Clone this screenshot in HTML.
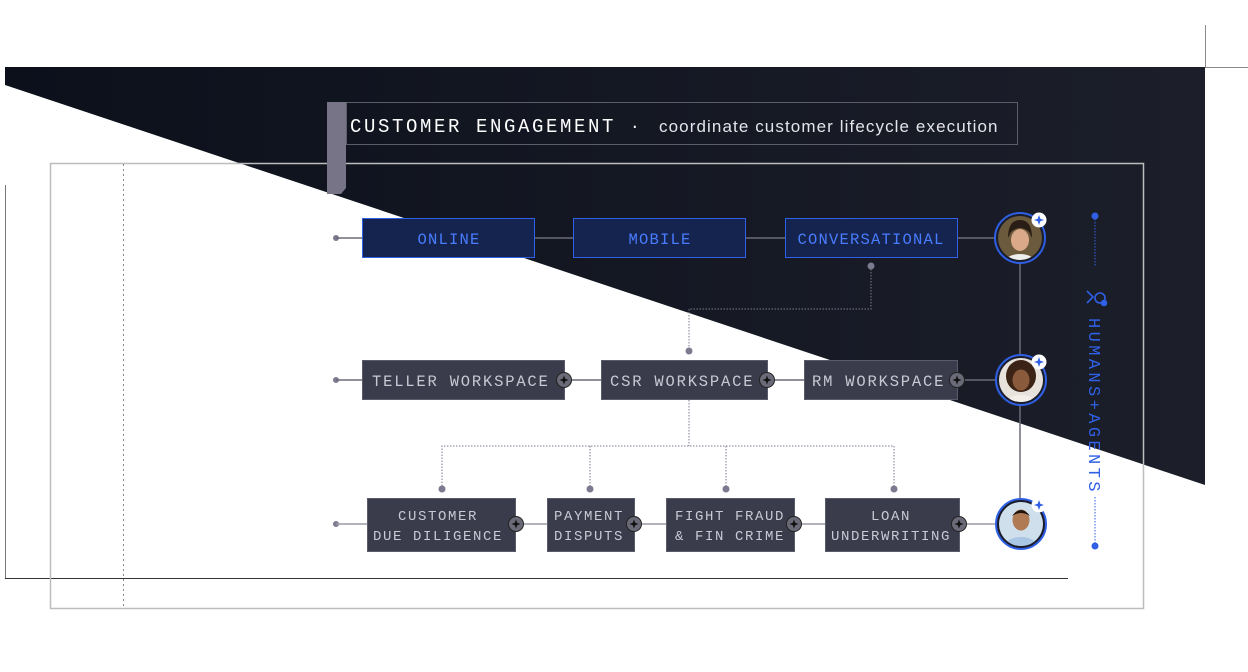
<!DOCTYPE html>
<html><head><meta charset="utf-8"><style>
html,body{margin:0;padding:0;background:#fff;width:1248px;height:672px;overflow:hidden}
svg{display:block}
.m{font-family:"Liberation Mono","DejaVu Sans Mono",monospace;}
</style></head><body>
<svg width="1248" height="672" viewBox="0 0 1248 672" xmlns="http://www.w3.org/2000/svg">
<defs>
<linearGradient id="dk" x1="0" y1="0" x2="1" y2="0">
<stop offset="0" stop-color="#0c101b"/><stop offset="1" stop-color="#1c1f2a"/>
</linearGradient>
<clipPath id="c1"><circle cx="1020" cy="238" r="22"/></clipPath>
<clipPath id="c2"><circle cx="1021" cy="380" r="22"/></clipPath>
<clipPath id="c3"><circle cx="1021" cy="524" r="22"/></clipPath>
</defs>
<polygon points="5,67 1205,67 1205,485 5,85" fill="url(#dk)"/>
<line x1="1205.5" y1="25" x2="1205.5" y2="67" stroke="#8a8a8a"/>
<line x1="1205" y1="67.5" x2="1248" y2="67.5" stroke="#8a8a8a"/>
<line x1="5.5" y1="185" x2="5.5" y2="578" stroke="#777"/>
<line x1="5" y1="578.5" x2="1068" y2="578.5" stroke="#333"/>
<rect x="50.5" y="163.5" width="1093" height="445" fill="none" stroke="#bdbdbd" stroke-width="1.5"/>
<line x1="123.5" y1="164" x2="123.5" y2="606" stroke="#888" stroke-dasharray="2,3"/>
<polygon points="327,102 346,102 346,188 341,194 327,194" fill="#767486"/>
<rect x="346.5" y="102.5" width="671" height="42" fill="none" stroke="#5c5d6a"/>
<text x="350" y="132" class="m" fill="#fff" font-size="19" letter-spacing="2.6">CUSTOMER ENGAGEMENT</text>
<text x="630" y="131" class="m" fill="#fff" font-size="16">·</text>
<text x="659" y="132" font-family="Liberation Sans,sans-serif" fill="#e4e4ea" font-size="17" letter-spacing="1.1">coordinate customer lifecycle execution</text>
<circle cx="336" cy="238" r="3" fill="#7b7a8e"/>
<line x1="336" y1="238" x2="1000" y2="238" stroke="#6b6b7a" stroke-width="1.5"/>
<line x1="1020" y1="260" x2="1020" y2="500" stroke="#6b6b7a" stroke-width="1.5"/>
<circle cx="871" cy="266" r="3.5" fill="#7b7a8e"/>
<polyline points="871,266 871,309 689,309 689,351" fill="none" stroke="#7b7a8e" stroke-dasharray="1.5,1.5"/>
<circle cx="689" cy="351" r="3.5" fill="#7b7a8e"/>
<g class="m" font-size="15.5" fill="#4a7cff" text-anchor="middle" letter-spacing="1.2">
<rect x="362.5" y="218.5" width="172" height="39" fill="#14244f" stroke="#2f60e6"/>
<text x="449" y="244">ONLINE</text>
<rect x="573.5" y="218.5" width="172" height="39" fill="#14244f" stroke="#2f60e6"/>
<text x="660" y="244">MOBILE</text>
<rect x="785.5" y="218.5" width="172" height="39" fill="#14244f" stroke="#2f60e6"/>
<text x="871" y="244">CONVERSATIONAL</text>
</g>
<circle cx="336" cy="380" r="3" fill="#7b7a8e"/>
<line x1="336" y1="380" x2="1000" y2="380" stroke="#6b6b7a" stroke-width="1.5"/>
<polyline points="689,400 689,446" fill="none" stroke="#7b7a8e" stroke-dasharray="1.5,1.5"/>
<polyline points="442,489 442,446 894,446 894,489" fill="none" stroke="#7b7a8e" stroke-dasharray="1.5,1.5"/>
<line x1="590" y1="446" x2="590" y2="489" stroke="#7b7a8e" stroke-dasharray="1.5,1.5"/>
<line x1="726" y1="446" x2="726" y2="489" stroke="#7b7a8e" stroke-dasharray="1.5,1.5"/>
<g fill="#7b7a8e"><circle cx="442" cy="489" r="3.5"/><circle cx="590" cy="489" r="3.5"/><circle cx="726" cy="489" r="3.5"/><circle cx="894" cy="489" r="3.5"/></g>
<g class="m" font-size="15.5" fill="#c9c9d4" letter-spacing="1.8">
<rect x="362.5" y="360.5" width="202" height="39" fill="#3a3b4b" stroke="#595a6a"/>
<text x="372" y="386">TELLER WORKSPACE</text>
<rect x="601.5" y="360.5" width="166" height="39" fill="#3a3b4b" stroke="#595a6a"/>
<text x="610" y="386">CSR WORKSPACE</text>
<rect x="804.5" y="360.5" width="153" height="39" fill="#3a3b4b" stroke="#595a6a"/>
<text x="812" y="386">RM WORKSPACE</text>
</g>
<circle cx="336" cy="524" r="3" fill="#7b7a8e"/>
<line x1="336" y1="524" x2="1000" y2="524" stroke="#9a9aa6" stroke-width="1.5"/>
<g class="m" font-size="14" fill="#c9c9d4" letter-spacing="1.6" text-anchor="middle">
<rect x="367.5" y="498.5" width="148" height="53" fill="#3a3b4b" stroke="#595a6a"/>
<text x="438" y="520">CUSTOMER</text><text x="438" y="540">DUE DILIGENCE</text>
<rect x="547.5" y="498.5" width="87" height="53" fill="#3a3b4b" stroke="#595a6a"/>
<text x="589" y="520">PAYMENT</text><text x="589" y="540">DISPUTS</text>
<rect x="666.5" y="498.5" width="128" height="53" fill="#3a3b4b" stroke="#595a6a"/>
<text x="730" y="520">FIGHT FRAUD</text><text x="730" y="540">&amp; FIN CRIME</text>
<rect x="825.5" y="498.5" width="134" height="53" fill="#3a3b4b" stroke="#595a6a"/>
<text x="891" y="520">LOAN</text><text x="891" y="540">UNDERWRITING</text>
</g>
<g>
<g transform="translate(564,380)"><circle r="7.5" fill="#6a6a78" stroke="#222" stroke-width="1"/><path d="M0,-4.5 L1.2,-1.2 4.5,0 1.2,1.2 0,4.5 -1.2,1.2 -4.5,0 -1.2,-1.2Z" fill="#111"/></g>
<g transform="translate(767,380)"><circle r="7.5" fill="#6a6a78" stroke="#222" stroke-width="1"/><path d="M0,-4.5 L1.2,-1.2 4.5,0 1.2,1.2 0,4.5 -1.2,1.2 -4.5,0 -1.2,-1.2Z" fill="#111"/></g>
<g transform="translate(957,380)"><circle r="7.5" fill="#6a6a78" stroke="#222" stroke-width="1"/><path d="M0,-4.5 L1.2,-1.2 4.5,0 1.2,1.2 0,4.5 -1.2,1.2 -4.5,0 -1.2,-1.2Z" fill="#111"/></g>
<g transform="translate(516,524)"><circle r="7.5" fill="#6a6a78" stroke="#222" stroke-width="1"/><path d="M0,-4.5 L1.2,-1.2 4.5,0 1.2,1.2 0,4.5 -1.2,1.2 -4.5,0 -1.2,-1.2Z" fill="#111"/></g>
<g transform="translate(634,524)"><circle r="7.5" fill="#6a6a78" stroke="#222" stroke-width="1"/><path d="M0,-4.5 L1.2,-1.2 4.5,0 1.2,1.2 0,4.5 -1.2,1.2 -4.5,0 -1.2,-1.2Z" fill="#111"/></g>
<g transform="translate(794,524)"><circle r="7.5" fill="#6a6a78" stroke="#222" stroke-width="1"/><path d="M0,-4.5 L1.2,-1.2 4.5,0 1.2,1.2 0,4.5 -1.2,1.2 -4.5,0 -1.2,-1.2Z" fill="#111"/></g>
<g transform="translate(959,524)"><circle r="7.5" fill="#6a6a78" stroke="#222" stroke-width="1"/><path d="M0,-4.5 L1.2,-1.2 4.5,0 1.2,1.2 0,4.5 -1.2,1.2 -4.5,0 -1.2,-1.2Z" fill="#111"/></g>
</g>
<circle cx="1020" cy="238" r="25" fill="#1a1d2a" stroke="#2f60e6" stroke-width="2"/>
<g clip-path="url(#c1)"><rect x="995" y="213" width="50" height="50" fill="#6b5a3c"/><ellipse cx="1020" cy="240" rx="9" ry="11" fill="#d9a98a"/><path d="M1008,238 q0,-18 12,-18 q12,0 12,18 l-3,-6 q-9,-8 -18,0z" fill="#2a1d15"/><ellipse cx="1020" cy="262" rx="15" ry="8" fill="#eee"/></g>
<circle cx="1021" cy="380" r="25" fill="#1a1d2a" stroke="#2f60e6" stroke-width="2"/>
<g clip-path="url(#c2)"><rect x="996" y="355" width="50" height="50" fill="#e8e2dc"/><ellipse cx="1021" cy="376" rx="15" ry="16" fill="#3b2416"/><ellipse cx="1021" cy="380" rx="8.5" ry="10.5" fill="#8a5a3c"/><ellipse cx="1021" cy="403" rx="15" ry="8" fill="#f3efe8"/></g>
<circle cx="1021" cy="524" r="25" fill="#1a1d2a" stroke="#2f60e6" stroke-width="2"/>
<g clip-path="url(#c3)"><rect x="996" y="499" width="50" height="50" fill="#cfe0ec"/><ellipse cx="1021" cy="520" rx="8.5" ry="10.5" fill="#b07a55"/><path d="M1012,516 q9,-12 18,0 q-9,-6 -18,0z" fill="#1d1410"/><ellipse cx="1021" cy="546" rx="16" ry="9" fill="#a9c6e4"/></g>
<g>
<g transform="translate(1039,220)"><circle r="7.5" fill="#fff"/><path d="M0,-5 L1.3,-1.3 5,0 1.3,1.3 0,5 -1.3,1.3 -5,0 -1.3,-1.3Z" fill="#2f60e6"/></g>
<g transform="translate(1039,362)"><circle r="7.5" fill="#fff"/><path d="M0,-5 L1.3,-1.3 5,0 1.3,1.3 0,5 -1.3,1.3 -5,0 -1.3,-1.3Z" fill="#2f60e6"/></g>
<g transform="translate(1039,505)"><circle r="7.5" fill="#fff"/><path d="M0,-5 L1.3,-1.3 5,0 1.3,1.3 0,5 -1.3,1.3 -5,0 -1.3,-1.3Z" fill="#2f60e6"/></g>
</g>
<circle cx="1095" cy="216" r="3.5" fill="#2f60e6"/>
<line x1="1095" y1="216" x2="1095" y2="267" stroke="#2f60e6" stroke-dasharray="1.5,1.5"/>
<g fill="none" stroke="#2f60e6" stroke-width="1.6">
<path d="M1087,291 l6,6 l-6,6"/><circle cx="1100" cy="298" r="5"/><circle cx="1104" cy="303" r="2.5" fill="#2f60e6"/>
</g>
<text transform="translate(1089,318) rotate(90)" class="m" font-size="17" fill="#2f60e6" letter-spacing="3.4">HUMANS+AGENTS</text>
<line x1="1095" y1="497" x2="1095" y2="546" stroke="#2f60e6" stroke-dasharray="1.5,1.5"/>
<circle cx="1095" cy="546" r="3.5" fill="#2f60e6"/>
</svg>
</body></html>
